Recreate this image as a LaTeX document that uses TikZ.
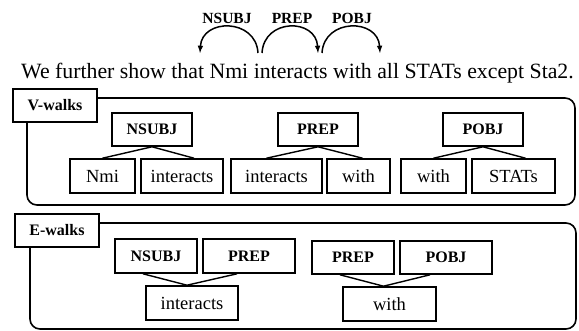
\documentclass[tikz,border=0pt]{standalone}
\usepackage{fontspec}
\setmainfont{Liberation Serif}
\usepackage{tikz}
\usetikzlibrary{arrows}

\tikzset{
    wordbox/.style  = {draw, line width=1.6pt, fill=white, inner sep=0pt, minimum height=34pt,
                       font=\fontsize{18.5}{22}\selectfont},
    relbox/.style   = {draw, line width=1.6pt, fill=white, inner sep=0pt, minimum height=33pt,
                       font=\fontsize{16}{19}\selectfont\bfseries},
    walkframe/.style= {draw, line width=1.6pt, rounded corners=10pt},
    link/.style     = {line width=1.4pt},
    deparc/.style   = {line width=1.5pt, -latex}
}

\begin{document}
\begin{tikzpicture}[x=1pt, y=-1pt]
            \useasboundingbox (0,0) rectangle (579,331);
            % Sentence & dependency arcs
            \node[anchor=base, font=\fontsize{21.8}{26}\selectfont] (sent) at (297.5,79)
                 {We further show that Nmi interacts with all STATs except Sta2.};
            \coordinate (t1) at (258,53); \coordinate (h1) at (200,53);
            \coordinate (t2) at (262,53); \coordinate (h2) at (318,53);
            \coordinate (t3) at (322,53); \coordinate (h3) at (380,53);
            \draw[deparc] (t1) .. controls (256,18) and (202,18) .. (h1);
            \draw[deparc] (t2) .. controls (264,18) and (316,18) .. (h2);
            \draw[deparc] (t3) .. controls (324,18) and (378,18) .. (h3);
            \node[font=\fontsize{15.5}{18}\selectfont\bfseries] (lnsubj) at (227,18) {NSUBJ};
            \node[font=\fontsize{15.5}{18}\selectfont\bfseries] (lprep)  at (292,18) {PREP};
            \node[font=\fontsize{15.5}{18}\selectfont\bfseries] (lpobj)  at (352,18) {POBJ};
            % V-walks
            \draw[walkframe] (27,98) rectangle (575,205);
            \node[relbox, minimum width=84pt] (vlab) at (55,105.5) {V-walks};
            \node[relbox,  minimum width=80pt] (vn)  at (152,129.5) {NSUBJ};
            \node[relbox,  minimum width=80pt] (vp)  at (318,129.5) {PREP};
            \node[relbox,  minimum width=80pt] (vo)  at (483,129.5) {POBJ};
            \node[wordbox, minimum width=65pt] (vw1) at (102.5,176) {Nmi};
            \node[wordbox, minimum width=82pt] (vw2) at (182,176)   {interacts};
            \node[wordbox, minimum width=91pt] (vw3) at (276.5,176) {interacts};
            \node[wordbox, minimum width=63pt] (vw4) at (358.5,176) {with};
            \node[wordbox, minimum width=65pt] (vw5) at (433.5,176) {with};
            \node[wordbox, minimum width=83pt] (vw6) at (513.5,176) {STATs};
            \draw[link] (vw1.north) -- (vn.south) -- ([xshift=12pt]vw2.north);
            \draw[link] ([xshift=-10pt]vw3.north) -- (vp.south) -- ([xshift=4pt]vw4.north);
            \draw[link] (vw5.north) -- (vo.south) -- ([xshift=12pt]vw6.north);
            % E-walks
            \draw[walkframe] (30,223) rectangle (576,329);
            \node[relbox, minimum width=84pt] (elab) at (57,230.5) {E-walks};
            \node[relbox,  minimum width=82pt, minimum height=34pt] (en1) at (156,256)   {NSUBJ};
            \node[relbox,  minimum width=92pt, minimum height=34pt] (ep1) at (249,256)   {PREP};
            \node[wordbox, minimum width=92pt] (ew1) at (192,303)   {interacts};
            \node[relbox,  minimum width=82pt] (ep2) at (353,257.5) {PREP};
            \node[relbox,  minimum width=92pt] (eo2) at (446,257.5) {POBJ};
            \node[wordbox, minimum width=93pt] (ew2) at (389.5,304) {with};
            \draw[link] ([xshift=-13pt]en1.south) -- ([xshift=-5pt]ew1.north) -- ([xshift=-12pt]ep1.south);
            \draw[link] ([xshift=-13pt]ep2.south) -- ([xshift=-6pt]ew2.north) -- ([xshift=-16pt]eo2.south);
        \end{tikzpicture}
\end{document}
